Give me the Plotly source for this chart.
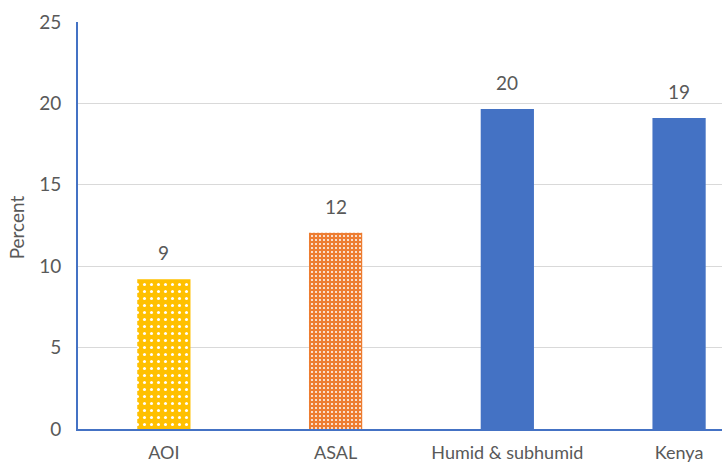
import plotly.graph_objects as go

categories = ["AOI", "ASAL", "Humid & subhumid", "Kenya"]
values = [9.2, 12.05, 19.65, 19.1]
labels = ["9", "12", "20", "19"]
colors = ["#FFC000", "#ED7D31", "#4472C4", "#4472C4"]
shapes = [".", ".", "", ""]
sizes = [7, 4, 6, 6]
solidities = [0.15, 0.2, 0.2, 0.2]

FONT = "Lato"
GRAY = "#595959"

fig = go.Figure()
for c, v, col, sh, sz, so in zip(categories, values, colors, shapes, sizes, solidities):
    fig.add_trace(go.Bar(
        x=[c], y=[v], width=0.31,
        marker=dict(
            color=col,
            line=dict(width=0),
            pattern=dict(shape=sh, fgcolor="white", bgcolor=col,
                         size=sz, solidity=so, fillmode="replace"),
        ),
        hoverinfo="skip",
    ))

for c, v, t in zip(categories, values, labels):
    fig.add_annotation(x=c, y=v, text=t, showarrow=False, yanchor="bottom",
                       yshift=13, font=dict(family=FONT, size=19, color=GRAY))

fig.add_annotation(xref="paper", yref="paper", x=-0.095, y=0.495, text="Percent",
                   textangle=-90, showarrow=False, xanchor="center", yanchor="middle",
                   font=dict(family=FONT, size=19, color=GRAY))

fig.update_layout(
    width=722, height=463,
    margin=dict(l=78, r=0, t=22, b=32),
    plot_bgcolor="white", paper_bgcolor="white",
    showlegend=False,
    barmode="overlay",
)
fig.update_xaxes(
    range=[-0.5, 3.25], showgrid=False, showline=True, linecolor="#4472C4",
    linewidth=2, ticks="outside", ticklen=6, tickcolor="rgba(0,0,0,0)",
    tickfont=dict(family=FONT, size=18, color=GRAY), zeroline=False,
)
fig.update_yaxes(
    range=[0, 25], dtick=5, showgrid=True, gridcolor="#D9D9D9", gridwidth=1,
    showline=True, linecolor="#4472C4", linewidth=2, zeroline=False,
    ticks="outside", ticklen=11, tickcolor="rgba(0,0,0,0)",
    tickfont=dict(family=FONT, size=19, color=GRAY),
)

fig.write_html("out.html")
